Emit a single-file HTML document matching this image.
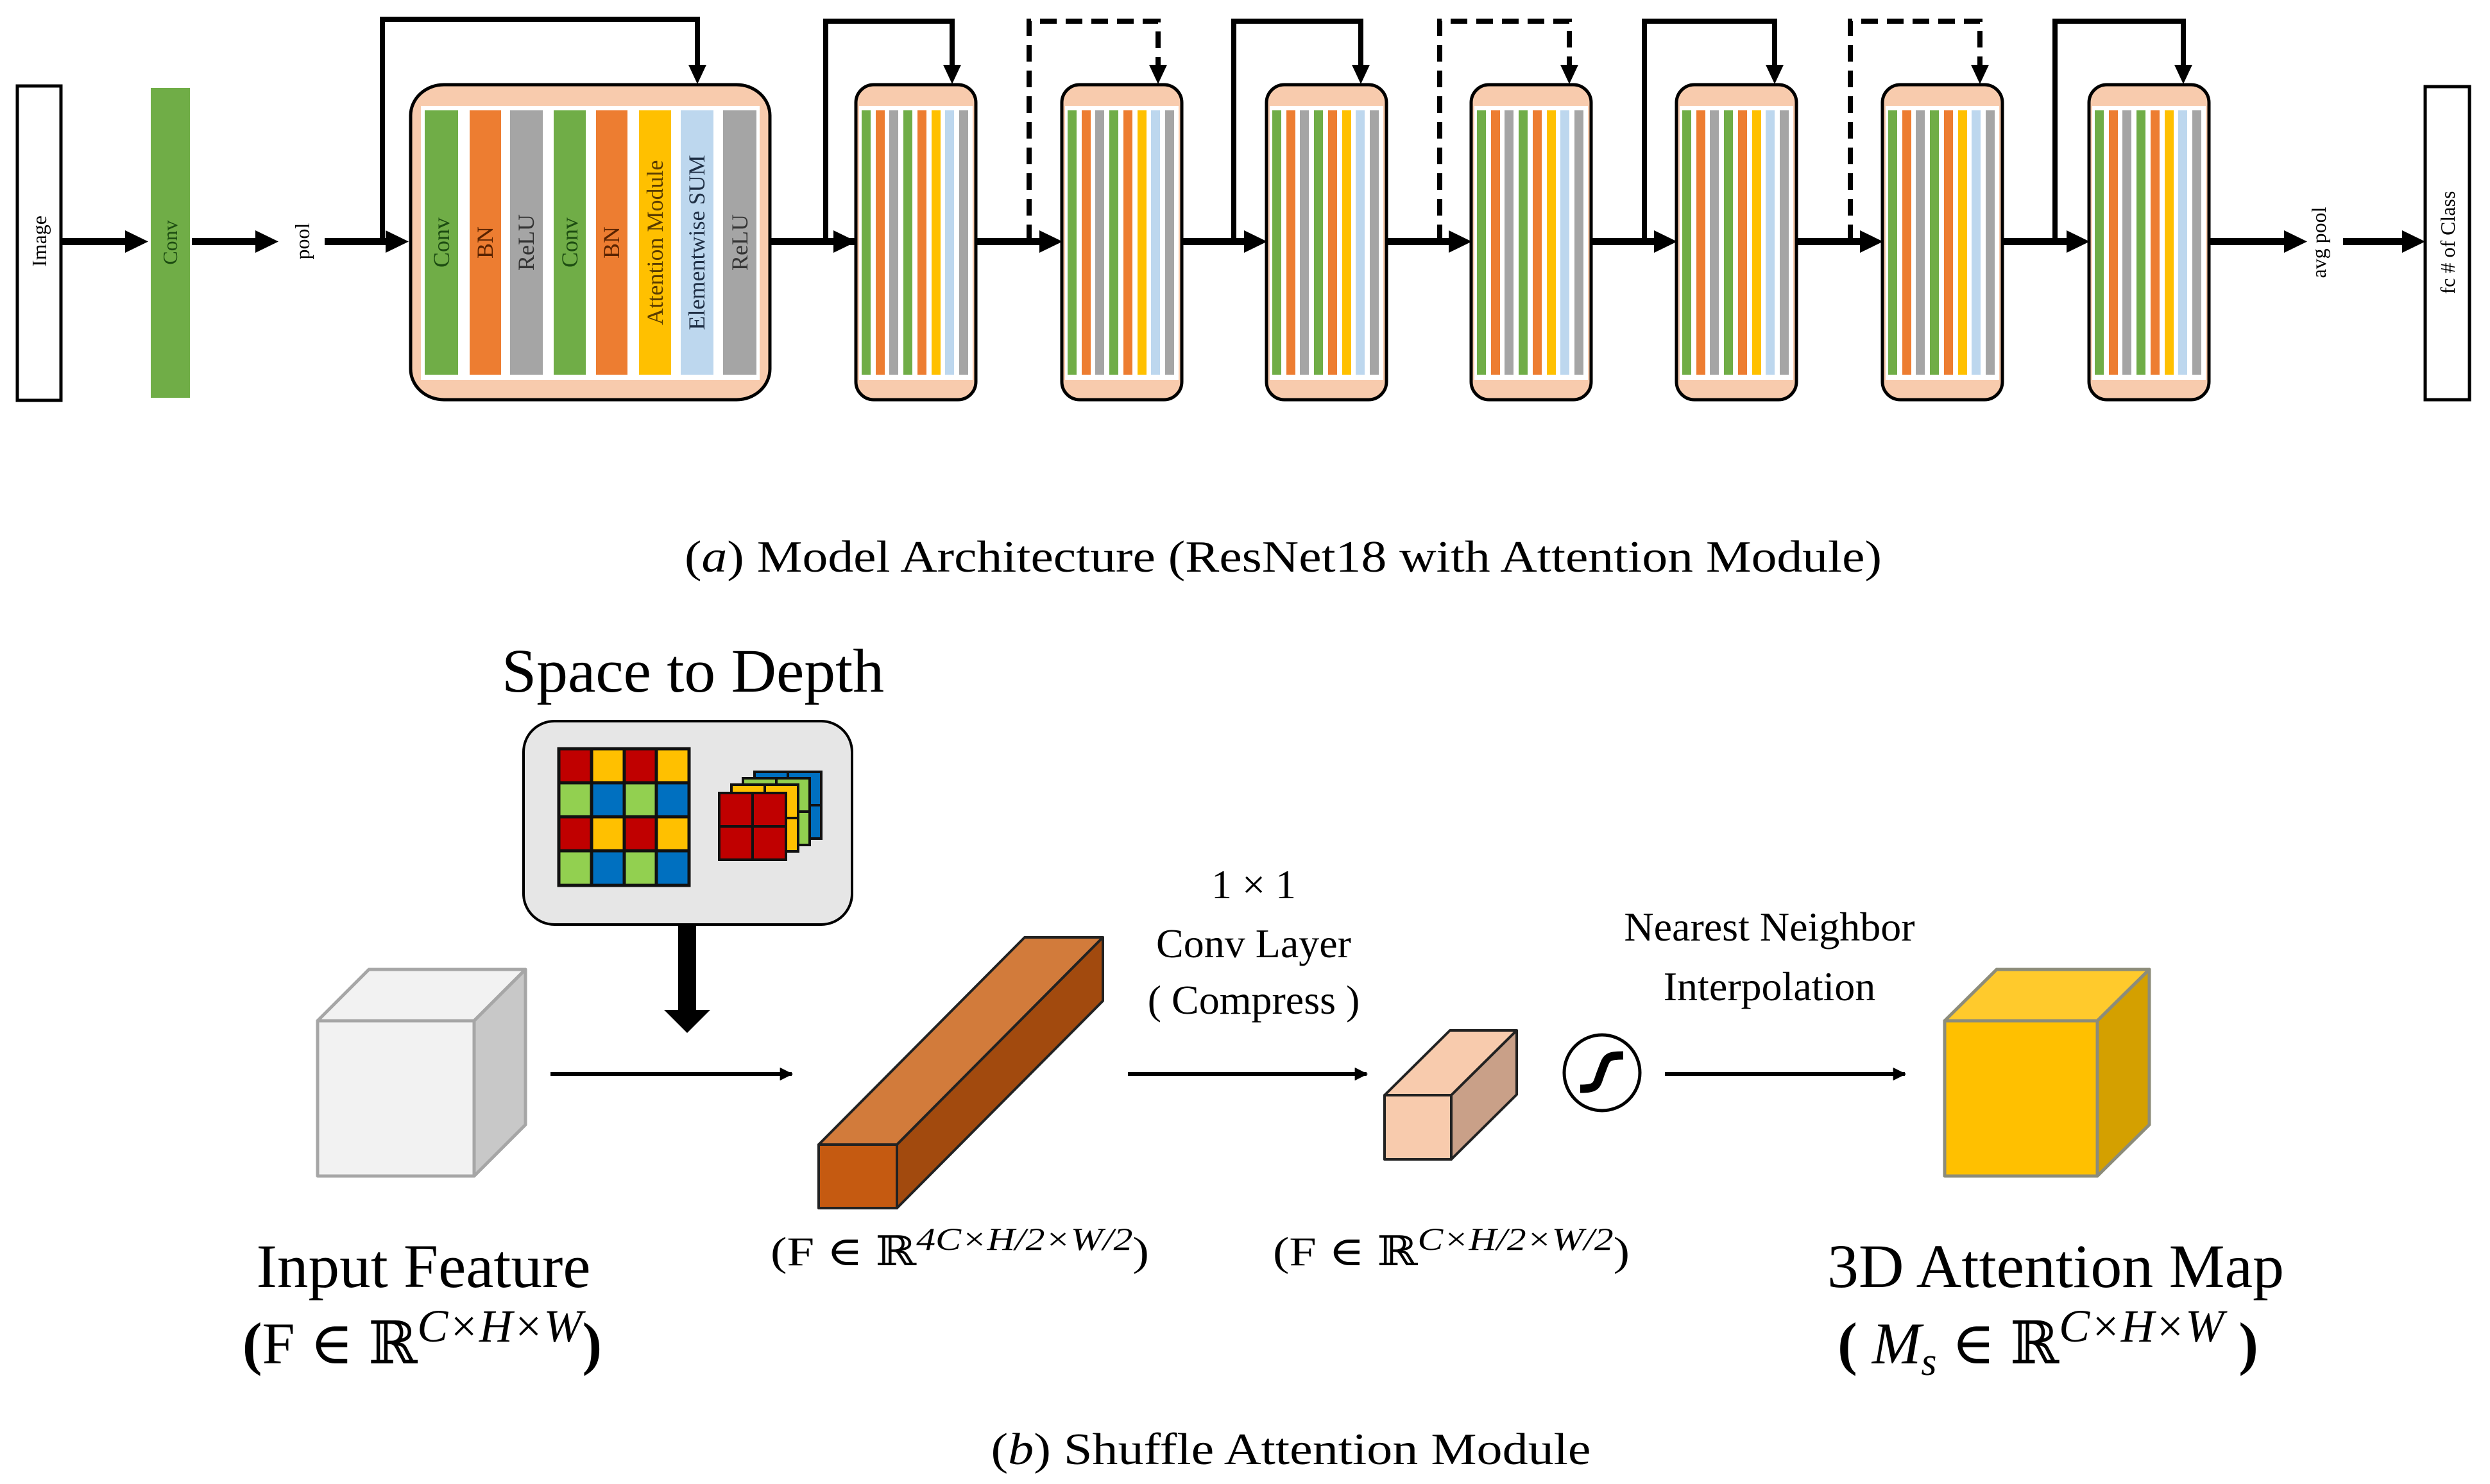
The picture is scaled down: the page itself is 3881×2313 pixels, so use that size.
<!DOCTYPE html>
<html><head><meta charset="utf-8"><style>
html,body{margin:0;padding:0;background:#fff;}
svg{display:block;}
text{font-family:"Liberation Serif","DejaVu Serif",serif;}
</style></head><body>
<svg width="3881" height="2313" viewBox="0 0 3881 2313" xmlns="http://www.w3.org/2000/svg">
<defs>
<marker id="ah" viewBox="0 0 10 10" refX="9" refY="5" markerWidth="3.6" markerHeight="3.4" markerUnits="strokeWidth" orient="auto"><path d="M0,0 L10,5 L0,10 z" fill="#000"/></marker>
</defs>

<rect x="27" y="134" width="68" height="490" fill="#fff" stroke="#000" stroke-width="5"/>
<text transform="translate(72,376) rotate(-90)" font-size="32" text-anchor="middle">Image</text>
<rect x="235" y="137" width="61" height="483" fill="#70AD47"/>
<text transform="translate(276,378) rotate(-90)" font-size="32" text-anchor="middle" fill="#1d4d12">Conv</text>
<text transform="translate(482,376) rotate(-90)" font-size="32" text-anchor="middle">pool</text>

<g fill="#000">
<rect x="96" y="371" width="102" height="11"/><polygon points="195,359 231,376.5 195,394"/>
<rect x="299" y="371" width="102" height="11"/><polygon points="398,359 434,376.5 398,394"/>
<rect x="506" y="371" width="98" height="11"/><polygon points="601,359 637,376.5 601,394"/>
</g>

<rect x="640" y="132" width="560" height="491" rx="52" ry="48" fill="#F8CBAD" stroke="#000" stroke-width="5"/>
<rect x="656" y="165" width="528" height="427" fill="#fff"/>
<g>
<rect x="662" y="172" width="52" height="412" fill="#70AD47"/>
<rect x="732" y="172" width="49" height="412" fill="#ED7D31"/>
<rect x="795" y="172" width="51" height="412" fill="#A5A5A5"/>
<rect x="863" y="172" width="50" height="412" fill="#70AD47"/>
<rect x="929" y="172" width="49" height="412" fill="#ED7D31"/>
<rect x="996" y="172" width="50" height="412" fill="#FFC000"/>
<rect x="1061" y="172" width="51" height="412" fill="#BDD7EE"/>
<rect x="1127" y="172" width="52" height="412" fill="#A5A5A5"/>
</g>
<g font-size="36" text-anchor="middle">
<text transform="translate(700,378) rotate(-90)" fill="#1d4d12">Conv</text>
<text transform="translate(768,378) rotate(-90)" fill="#5a2300">BN</text>
<text transform="translate(832,378) rotate(-90)" fill="#333">ReLU</text>
<text transform="translate(900,378) rotate(-90)" fill="#1d4d12">Conv</text>
<text transform="translate(965,378) rotate(-90)" fill="#5a2300">BN</text>
<text transform="translate(1033,378) rotate(-90)" fill="#5a3c00">Attention Module</text>
<text transform="translate(1098,378) rotate(-90)" fill="#1f2f45">Elementwise SUM</text>
<text transform="translate(1165,378) rotate(-90)" fill="#333">ReLU</text>
</g>
<polyline points="596,376 596,30 1087,30 1087,104" fill="none" stroke="#000" stroke-width="8"/>
<polygon points="1073,101 1101,101 1087,131" fill="#000"/>
<rect x="1200" y="371" width="135" height="11" fill="#000"/>

<g>
<g transform="translate(1334,0)">
<rect x="0" y="132" width="187" height="491" rx="28" ry="28" fill="#F8CBAD" stroke="#000" stroke-width="5"/>
<rect x="5" y="165" width="177" height="427" fill="#fff"/>
<rect x="9" y="172" width="14" height="412" fill="#70AD47"/><rect x="31" y="172" width="14" height="412" fill="#ED7D31"/><rect x="52" y="172" width="14" height="412" fill="#A5A5A5"/><rect x="74" y="172" width="14" height="412" fill="#70AD47"/><rect x="96" y="172" width="14" height="412" fill="#ED7D31"/><rect x="118" y="172" width="14" height="412" fill="#FFC000"/><rect x="139" y="172" width="14" height="412" fill="#BDD7EE"/><rect x="161" y="172" width="14" height="412" fill="#A5A5A5"/>
</g>
<g transform="translate(1655,0)">
<rect x="0" y="132" width="187" height="491" rx="28" ry="28" fill="#F8CBAD" stroke="#000" stroke-width="5"/>
<rect x="5" y="165" width="177" height="427" fill="#fff"/>
<rect x="9" y="172" width="14" height="412" fill="#70AD47"/><rect x="31" y="172" width="14" height="412" fill="#ED7D31"/><rect x="52" y="172" width="14" height="412" fill="#A5A5A5"/><rect x="74" y="172" width="14" height="412" fill="#70AD47"/><rect x="96" y="172" width="14" height="412" fill="#ED7D31"/><rect x="118" y="172" width="14" height="412" fill="#FFC000"/><rect x="139" y="172" width="14" height="412" fill="#BDD7EE"/><rect x="161" y="172" width="14" height="412" fill="#A5A5A5"/>
</g>
<g transform="translate(1974,0)">
<rect x="0" y="132" width="187" height="491" rx="28" ry="28" fill="#F8CBAD" stroke="#000" stroke-width="5"/>
<rect x="5" y="165" width="177" height="427" fill="#fff"/>
<rect x="9" y="172" width="14" height="412" fill="#70AD47"/><rect x="31" y="172" width="14" height="412" fill="#ED7D31"/><rect x="52" y="172" width="14" height="412" fill="#A5A5A5"/><rect x="74" y="172" width="14" height="412" fill="#70AD47"/><rect x="96" y="172" width="14" height="412" fill="#ED7D31"/><rect x="118" y="172" width="14" height="412" fill="#FFC000"/><rect x="139" y="172" width="14" height="412" fill="#BDD7EE"/><rect x="161" y="172" width="14" height="412" fill="#A5A5A5"/>
</g>
<g transform="translate(2293,0)">
<rect x="0" y="132" width="187" height="491" rx="28" ry="28" fill="#F8CBAD" stroke="#000" stroke-width="5"/>
<rect x="5" y="165" width="177" height="427" fill="#fff"/>
<rect x="9" y="172" width="14" height="412" fill="#70AD47"/><rect x="31" y="172" width="14" height="412" fill="#ED7D31"/><rect x="52" y="172" width="14" height="412" fill="#A5A5A5"/><rect x="74" y="172" width="14" height="412" fill="#70AD47"/><rect x="96" y="172" width="14" height="412" fill="#ED7D31"/><rect x="118" y="172" width="14" height="412" fill="#FFC000"/><rect x="139" y="172" width="14" height="412" fill="#BDD7EE"/><rect x="161" y="172" width="14" height="412" fill="#A5A5A5"/>
</g>
<g transform="translate(2613,0)">
<rect x="0" y="132" width="187" height="491" rx="28" ry="28" fill="#F8CBAD" stroke="#000" stroke-width="5"/>
<rect x="5" y="165" width="177" height="427" fill="#fff"/>
<rect x="9" y="172" width="14" height="412" fill="#70AD47"/><rect x="31" y="172" width="14" height="412" fill="#ED7D31"/><rect x="52" y="172" width="14" height="412" fill="#A5A5A5"/><rect x="74" y="172" width="14" height="412" fill="#70AD47"/><rect x="96" y="172" width="14" height="412" fill="#ED7D31"/><rect x="118" y="172" width="14" height="412" fill="#FFC000"/><rect x="139" y="172" width="14" height="412" fill="#BDD7EE"/><rect x="161" y="172" width="14" height="412" fill="#A5A5A5"/>
</g>
<g transform="translate(2934,0)">
<rect x="0" y="132" width="187" height="491" rx="28" ry="28" fill="#F8CBAD" stroke="#000" stroke-width="5"/>
<rect x="5" y="165" width="177" height="427" fill="#fff"/>
<rect x="9" y="172" width="14" height="412" fill="#70AD47"/><rect x="31" y="172" width="14" height="412" fill="#ED7D31"/><rect x="52" y="172" width="14" height="412" fill="#A5A5A5"/><rect x="74" y="172" width="14" height="412" fill="#70AD47"/><rect x="96" y="172" width="14" height="412" fill="#ED7D31"/><rect x="118" y="172" width="14" height="412" fill="#FFC000"/><rect x="139" y="172" width="14" height="412" fill="#BDD7EE"/><rect x="161" y="172" width="14" height="412" fill="#A5A5A5"/>
</g>
<g transform="translate(3256,0)">
<rect x="0" y="132" width="187" height="491" rx="28" ry="28" fill="#F8CBAD" stroke="#000" stroke-width="5"/>
<rect x="5" y="165" width="177" height="427" fill="#fff"/>
<rect x="9" y="172" width="14" height="412" fill="#70AD47"/><rect x="31" y="172" width="14" height="412" fill="#ED7D31"/><rect x="52" y="172" width="14" height="412" fill="#A5A5A5"/><rect x="74" y="172" width="14" height="412" fill="#70AD47"/><rect x="96" y="172" width="14" height="412" fill="#ED7D31"/><rect x="118" y="172" width="14" height="412" fill="#FFC000"/><rect x="139" y="172" width="14" height="412" fill="#BDD7EE"/><rect x="161" y="172" width="14" height="412" fill="#A5A5A5"/>
</g>
</g>

<g fill="#000">
<polygon points="1299,359 1335,376.5 1299,394"/>
<rect x="1521" y="371" width="100" height="11"/><polygon points="1620,359 1656,376.5 1620,394"/>
<rect x="1842" y="371" width="98" height="11"/><polygon points="1939,359 1975,376.5 1939,394"/>
<rect x="2161" y="371" width="98" height="11"/><polygon points="2258,359 2294,376.5 2258,394"/>
<rect x="2480" y="371" width="99" height="11"/><polygon points="2578,359 2614,376.5 2578,394"/>
<rect x="2800" y="371" width="100" height="11"/><polygon points="2899,359 2935,376.5 2899,394"/>
<rect x="3121" y="371" width="101" height="11"/><polygon points="3221,359 3257,376.5 3221,394"/>
<rect x="3443" y="371" width="120" height="11"/><polygon points="3560,359 3596,376.5 3560,394"/>
<rect x="3652" y="371" width="95" height="11"/><polygon points="3744,359 3780,376.5 3744,394"/>
</g>

<g fill="none" stroke="#000" stroke-width="8">
<polyline points="1287,376 1287,33 1484,33 1484,104"/>
<polyline points="1604,376 1604,33 1805,33 1805,104" stroke-dasharray="26,14"/>
<polyline points="1923,376 1923,33 2121,33 2121,104"/>
<polyline points="2244,376 2244,33 2446,33 2446,104" stroke-dasharray="26,14"/>
<polyline points="2563,376 2563,33 2766,33 2766,104"/>
<polyline points="2884,376 2884,33 3086,33 3086,104" stroke-dasharray="26,14"/>
<polyline points="3203,376 3203,33 3403,33 3403,104"/>
</g>
<g fill="#000">
<polygon points="1470,101 1498,101 1484,131"/>
<polygon points="1791,101 1819,101 1805,131"/>
<polygon points="2107,101 2135,101 2121,131"/>
<polygon points="2432,101 2460,101 2446,131"/>
<polygon points="2752,101 2780,101 2766,131"/>
<polygon points="3072,101 3100,101 3086,131"/>
<polygon points="3389,101 3417,101 3403,131"/>
</g>

<text transform="translate(3625,378) rotate(-90)" font-size="32" text-anchor="middle">avg pool</text>
<rect x="3780" y="135" width="69" height="488" fill="#fff" stroke="#000" stroke-width="5"/>
<text transform="translate(3826,378) rotate(-90)" font-size="32" text-anchor="middle">fc # of Class</text>

<text x="2000" y="891" font-size="70" text-anchor="middle" textLength="1866" lengthAdjust="spacingAndGlyphs">(<tspan font-style="italic">a</tspan>) Model Architecture (ResNet18 with Attention Module)</text>

<text x="1080" y="1078" font-size="96" text-anchor="middle" textLength="596" lengthAdjust="spacingAndGlyphs">Space to Depth</text>
<rect x="816" y="1124" width="512" height="317" rx="48" ry="48" fill="#E6E6E6" stroke="#000" stroke-width="4"/>
<g stroke="#111" stroke-width="5">
<rect x="871" y="1167" width="51" height="53" fill="#C00000"/><rect x="922" y="1167" width="51" height="53" fill="#FFC000"/><rect x="973" y="1167" width="50" height="53" fill="#C00000"/><rect x="1023" y="1167" width="51" height="53" fill="#FFC000"/>
<rect x="871" y="1220" width="51" height="53" fill="#92D050"/><rect x="922" y="1220" width="51" height="53" fill="#0070C0"/><rect x="973" y="1220" width="50" height="53" fill="#92D050"/><rect x="1023" y="1220" width="51" height="53" fill="#0070C0"/>
<rect x="871" y="1273" width="51" height="53" fill="#C00000"/><rect x="922" y="1273" width="51" height="53" fill="#FFC000"/><rect x="973" y="1273" width="50" height="53" fill="#C00000"/><rect x="1023" y="1273" width="51" height="53" fill="#FFC000"/>
<rect x="871" y="1326" width="51" height="54" fill="#92D050"/><rect x="922" y="1326" width="51" height="54" fill="#0070C0"/><rect x="973" y="1326" width="50" height="54" fill="#92D050"/><rect x="1023" y="1326" width="51" height="54" fill="#0070C0"/>
</g>
<g stroke="#111" stroke-width="4">
<g transform="translate(55,-33)"><rect x="1121" y="1236" width="52" height="52" fill="#0070C0"/><rect x="1173" y="1236" width="52" height="52" fill="#0070C0"/><rect x="1121" y="1288" width="52" height="52" fill="#0070C0"/><rect x="1173" y="1288" width="52" height="52" fill="#0070C0"/></g>
<g transform="translate(37,-23)"><rect x="1121" y="1236" width="52" height="52" fill="#92D050"/><rect x="1173" y="1236" width="52" height="52" fill="#92D050"/><rect x="1121" y="1288" width="52" height="52" fill="#92D050"/><rect x="1173" y="1288" width="52" height="52" fill="#92D050"/></g>
<g transform="translate(19,-13)"><rect x="1121" y="1236" width="52" height="52" fill="#FFC000"/><rect x="1173" y="1236" width="52" height="52" fill="#FFC000"/><rect x="1121" y="1288" width="52" height="52" fill="#FFC000"/><rect x="1173" y="1288" width="52" height="52" fill="#FFC000"/></g>
<rect x="1121" y="1236" width="52" height="52" fill="#C00000"/><rect x="1173" y="1236" width="52" height="52" fill="#C00000"/><rect x="1121" y="1288" width="52" height="52" fill="#C00000"/><rect x="1173" y="1288" width="52" height="52" fill="#C00000"/>
</g>
<rect x="1057" y="1441" width="28" height="136" fill="#000"/>
<polygon points="1035,1574 1107,1574 1071,1610" fill="#000"/>

<g stroke="#A6A6A6" stroke-width="5" stroke-linejoin="round">
<polygon points="495,1591 575,1511 819,1511 739,1591" fill="#F2F2F2"/>
<polygon points="739,1591 819,1511 819,1753 739,1833" fill="#C8C8C8"/>
<rect x="495" y="1591" width="244" height="242" fill="#F2F2F2"/>
</g>
<line x1="858" y1="1674" x2="1234" y2="1674" stroke="#000" stroke-width="6" marker-end="url(#ah)"/>

<g stroke="#222" stroke-width="4" stroke-linejoin="round">
<polygon points="1276,1784 1597,1461 1719,1461 1398,1784" fill="#D27B3B"/>
<polygon points="1398,1784 1719,1461 1719,1560 1398,1883" fill="#A24A0E"/>
<rect x="1276" y="1784" width="122" height="99" fill="#C55A11"/>
</g>

<line x1="1758" y1="1674" x2="2130" y2="1674" stroke="#000" stroke-width="6" marker-end="url(#ah)"/>
<text x="1954" y="1400" font-size="64" text-anchor="middle">1 × 1</text>
<text x="1954" y="1492" font-size="64" text-anchor="middle">Conv Layer</text>
<text x="1954" y="1580" font-size="64" text-anchor="middle">( Compress )</text>

<g stroke="#222" stroke-width="4" stroke-linejoin="round">
<polygon points="2158,1707 2260,1606 2364,1606 2262,1707" fill="#F8CBAD"/>
<polygon points="2262,1707 2364,1606 2364,1706 2262,1807" fill="#C9A088"/>
<rect x="2158" y="1707" width="104" height="100" fill="#F8CBAD"/>
</g>

<circle cx="2497" cy="1672" r="59" fill="#fff" stroke="#000" stroke-width="5"/>
<path d="M2463,1697 C2492,1697 2488,1690 2496,1670 C2504,1650 2502,1645 2530,1645" fill="none" stroke="#000" stroke-width="13"/>

<line x1="2595" y1="1674" x2="2969" y2="1674" stroke="#000" stroke-width="6" marker-end="url(#ah)"/>
<text x="2758" y="1466" font-size="64" text-anchor="middle">Nearest Neighbor</text>
<text x="2758" y="1559" font-size="64" text-anchor="middle">Interpolation</text>

<g stroke="#8C8C7A" stroke-width="5" stroke-linejoin="round">
<polygon points="3031,1591 3112,1511 3350,1511 3269,1591" fill="#FFCA2C"/>
<polygon points="3269,1591 3350,1511 3350,1753 3269,1833" fill="#D4A000"/>
<rect x="3031" y="1591" width="238" height="242" fill="#FFC000"/>
</g>

<text x="1496" y="1972" font-size="64" text-anchor="middle" textLength="590" lengthAdjust="spacingAndGlyphs">(F ∈ ℝ<tspan font-style="italic" font-size="50" dy="-24">4C×H/2×W/2</tspan><tspan dy="24">)</tspan></text>
<text x="2262" y="1972" font-size="64" text-anchor="middle" textLength="556" lengthAdjust="spacingAndGlyphs">(F ∈ ℝ<tspan font-style="italic" font-size="50" dy="-24">C×H/2×W/2</tspan><tspan dy="24">)</tspan></text>

<text x="660" y="2006" font-size="96" text-anchor="middle" textLength="521" lengthAdjust="spacingAndGlyphs">Input Feature</text>
<text x="658" y="2125" font-size="92" text-anchor="middle"><tspan font-weight="bold">(</tspan>F ∈ ℝ<tspan font-style="italic" font-size="72" dy="-34">C×H×W</tspan><tspan dy="34" font-weight="bold">)</tspan></text>

<text x="3204" y="2006" font-size="96" text-anchor="middle" textLength="712" lengthAdjust="spacingAndGlyphs">3D Attention Map</text>
<text x="3192" y="2125" font-size="92" text-anchor="middle"><tspan font-weight="bold">( </tspan><tspan font-style="italic">M</tspan><tspan font-style="italic" font-size="62" dy="18">s</tspan><tspan dy="-18"> ∈ ℝ</tspan><tspan font-style="italic" font-size="72" dy="-34">C×H×W</tspan><tspan dy="34" font-weight="bold"> )</tspan></text>

<text x="2012" y="2282" font-size="70" text-anchor="middle" textLength="935" lengthAdjust="spacingAndGlyphs">(<tspan font-style="italic">b</tspan>) Shuffle Attention Module</text>
</svg>
</body></html>
